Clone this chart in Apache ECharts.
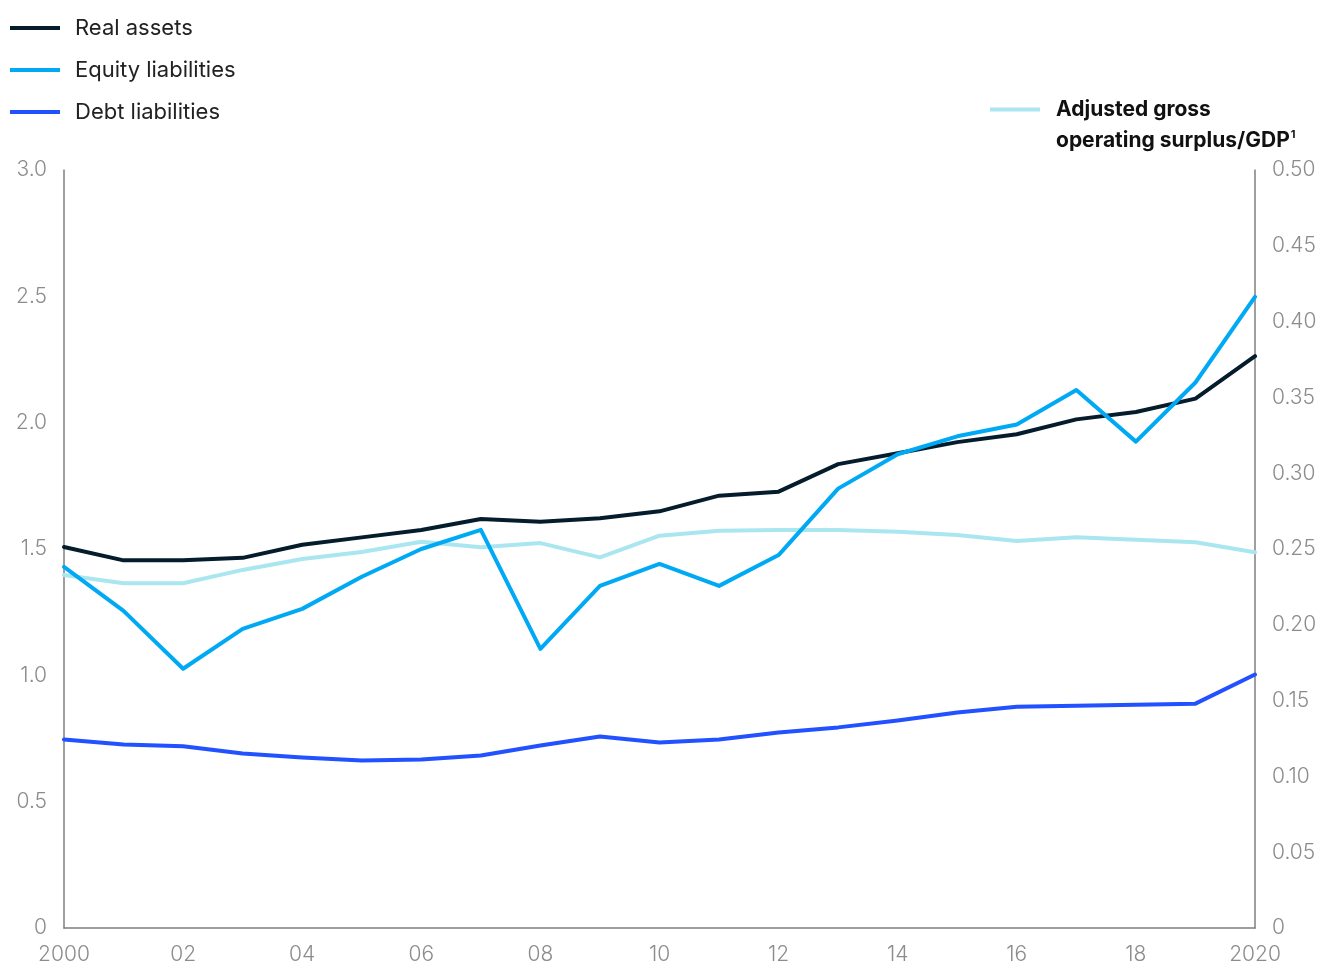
<!DOCTYPE html>
<html>
<head>
<meta charset="utf-8">
<script src="https://cdn.jsdelivr.net/npm/echarts@6/dist/echarts.min.js"></script>
<style>
html,body{margin:0;padding:0;background:#fff;}
#chart{width:1323px;height:965px;}
</style>
</head>
<body>
<div id="chart"></div>
<script>
const years = ['2000','2001','2002','2003','2004','2005','2006','2007','2008','2009','2010','2011','2012','2013','2014','2015','2016','2017','2018','2019','2020'];
const realAssets = [1.508,1.455,1.455,1.465,1.517,1.546,1.575,1.619,1.608,1.622,1.649,1.711,1.727,1.836,1.879,1.923,1.954,2.013,2.042,2.095,2.263];
const equityLiabilities = [1.429,1.255,1.026,1.184,1.263,1.390,1.500,1.576,1.105,1.354,1.441,1.354,1.476,1.739,1.875,1.946,1.993,2.129,1.925,2.159,2.498];
const debtLiabilities = [0.746,0.726,0.719,0.691,0.675,0.663,0.667,0.683,0.722,0.758,0.734,0.746,0.774,0.794,0.821,0.853,0.876,0.880,0.884,0.888,1.003];
const adjustedGOS = [0.2329,0.2274,0.2274,0.2362,0.2434,0.2480,0.2548,0.2511,0.2539,0.2445,0.2588,0.2620,0.2625,0.2625,0.2614,0.2592,0.2553,0.2577,0.2561,0.2544,0.2478];

const FONT = 'Inter, "Noto Sans", sans-serif';
const chart = echarts.init(document.getElementById('chart'));
const lineSeries = (name, data, color, yIdx, z) => ({
  name, type: 'line', data, yAxisIndex: yIdx, symbol: 'none', z,
  lineStyle: {color, width: 4, cap: 'round', join: 'round'}, itemStyle: {color},
  emphasis: {disabled: true}
});
chart.setOption({
  animation: false,
  textStyle: {fontFamily: FONT},
  grid: {left: 64, right: 68, top: 170, bottom: 35, containLabel: false},
  legend: [
    {
      orient: 'vertical', left: 5, top: 11, itemWidth: 50, itemHeight: 4, itemGap: 18,
      icon: 'rect', selectedMode: false,
      textStyle: {fontSize: 22, color: '#222', lineHeight: 24, padding: [0,0,0,10], fontFamily: FONT},
      data: ['Real assets','Equity liabilities','Debt liabilities']
    },
    {
      orient: 'vertical', left: 985, top: 58, itemWidth: 50, itemHeight: 4,
      icon: 'rect', selectedMode: false,
      formatter: () => '{b|Adjusted gross}\n{b|operating surplus/GDP}{s|1}',
      textStyle: {
        fontSize: 21, fontWeight: 'bold', color: '#111', lineHeight: 31, padding: [31,0,0,11], fontFamily: FONT,
        rich: {
          b: {fontSize: 21, fontWeight: 'bold', color: '#111', lineHeight: 31, fontFamily: FONT},
          s: {fontSize: 11, fontWeight: 'bold', color: '#111', lineHeight: 31, padding: [0,0,12,1], fontFamily: FONT}
        }
      },
      data: ['Adjusted gross operating surplus/GDP']
    }
  ],
  xAxis: {
    type: 'category', data: years, boundaryGap: false,
    axisLine: {show: true, lineStyle: {color: '#7f7f7f', width: 1.5}},
    axisTick: {show: false},
    axisLabel: {
      interval: 1, color: '#8c8c8c', fontSize: 21, fontWeight: 300, margin: 16, fontFamily: FONT,
      formatter: v => (v === '2000' || v === '2020') ? v : v.slice(2)
    },
    splitLine: {show: false}
  },
  yAxis: [
    {
      type: 'value', min: 0, max: 3, interval: 0.5, position: 'left',
      axisLine: {show: true, lineStyle: {color: '#7f7f7f', width: 1.5}},
      axisTick: {show: false}, splitLine: {show: false},
      axisLabel: {color: '#8c8c8c', fontSize: 21, fontWeight: 300, margin: 17, padding: [4,0,0,0], fontFamily: FONT,
        formatter: v => v === 0 ? '0' : v.toFixed(1)}
    },
    {
      type: 'value', min: 0, max: 0.5, interval: 0.05, position: 'right',
      axisLine: {show: true, lineStyle: {color: '#7f7f7f', width: 1.5}},
      axisTick: {show: false}, splitLine: {show: false},
      axisLabel: {color: '#8c8c8c', fontSize: 21, fontWeight: 300, margin: 17, padding: [4,0,0,0], fontFamily: FONT,
        formatter: v => v === 0 ? '0' : v.toFixed(2)}
    }
  ],
  series: [
    lineSeries('Adjusted gross operating surplus/GDP', adjustedGOS, '#AAE6F0', 1, 1),
    lineSeries('Debt liabilities', debtLiabilities, '#2251FF', 0, 2),
    lineSeries('Real assets', realAssets, '#051C2C', 0, 3),
    lineSeries('Equity liabilities', equityLiabilities, '#00A9F4', 0, 4)
  ]
});
</script>
</body>
</html>
